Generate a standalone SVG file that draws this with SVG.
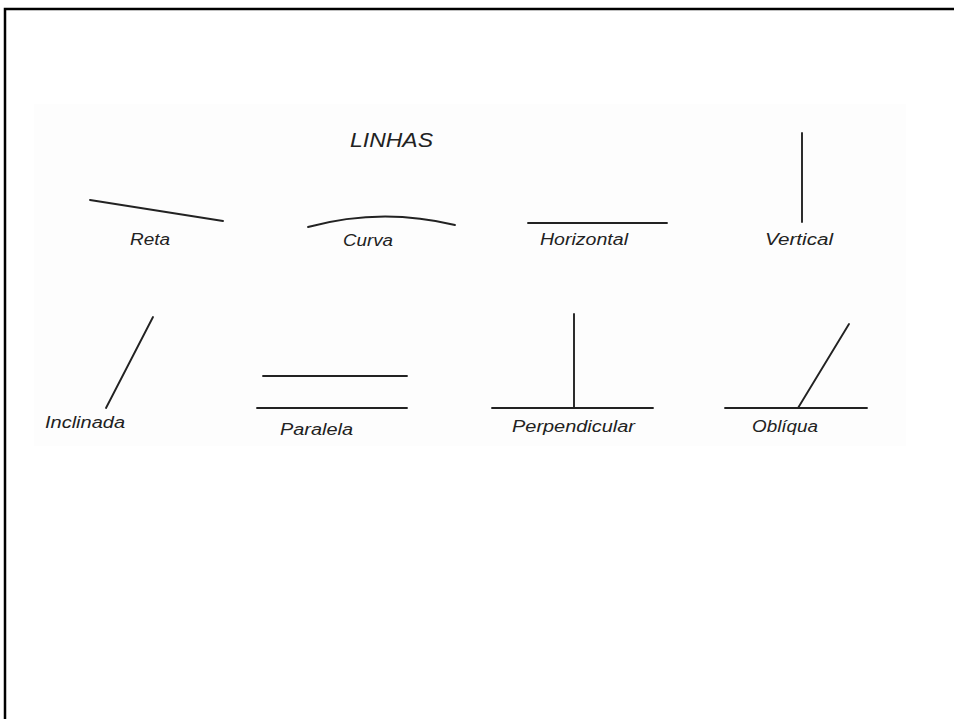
<svg xmlns="http://www.w3.org/2000/svg" width="954" height="719" viewBox="0 0 954 719">
<style>
.ln{stroke:#222;stroke-width:1.9;fill:none;stroke-linecap:round}
.lb{font-family:"Liberation Sans","DejaVu Sans",sans-serif;font-style:italic;font-size:16px;fill:#222}
.tt{font-family:"Liberation Sans","DejaVu Sans",sans-serif;font-style:italic;font-size:20px;fill:#222}
</style>
<rect x="0" y="0" width="954" height="719" fill="#ffffff"/>
<rect x="34" y="104" width="872" height="342" fill="#fdfdfd"/>
<path d="M5 719 V9 H954" fill="none" stroke="#000" stroke-width="2.5"/>
<text class="tt" x="350" y="147" textLength="83" lengthAdjust="spacingAndGlyphs">LINHAS</text>
<g id="reta">
<line class="ln" x1="90" y1="200" x2="223" y2="221"/>
<text class="lb" x="130" y="245" textLength="40" lengthAdjust="spacingAndGlyphs">Reta</text>
</g>
<g id="curva">
<path class="ln" d="M308 227 Q381 207 455 225"/>
<text class="lb" x="343" y="246" textLength="50" lengthAdjust="spacingAndGlyphs">Curva</text>
</g>
<g id="horizontal">
<line class="ln" x1="528" y1="223" x2="667" y2="223"/>
<text class="lb" x="540" y="245" textLength="88" lengthAdjust="spacingAndGlyphs">Horizontal</text>
</g>
<g id="vertical">
<line class="ln" x1="802" y1="133" x2="802" y2="222"/>
<text class="lb" x="765" y="245" textLength="68" lengthAdjust="spacingAndGlyphs">Vertical</text>
</g>
<g id="inclinada">
<line class="ln" x1="153" y1="317" x2="106" y2="408"/>
<text class="lb" x="45" y="428" textLength="80" lengthAdjust="spacingAndGlyphs">Inclinada</text>
</g>
<g id="paralela">
<line class="ln" x1="263" y1="376" x2="407" y2="376"/>
<line class="ln" x1="257" y1="408" x2="407" y2="408"/>
<text class="lb" x="280" y="435" textLength="73" lengthAdjust="spacingAndGlyphs">Paralela</text>
</g>
<g id="perpendicular">
<line class="ln" x1="492" y1="408" x2="653" y2="408"/>
<line class="ln" x1="574" y1="314" x2="574" y2="408"/>
<text class="lb" x="512" y="432" textLength="123" lengthAdjust="spacingAndGlyphs">Perpendicular</text>
</g>
<g id="obliqua">
<line class="ln" x1="725" y1="408" x2="867" y2="408"/>
<line class="ln" x1="798" y1="408" x2="849" y2="324"/>
<text class="lb" x="752" y="432" textLength="66" lengthAdjust="spacingAndGlyphs">Oblíqua</text>
</g>
</svg>
